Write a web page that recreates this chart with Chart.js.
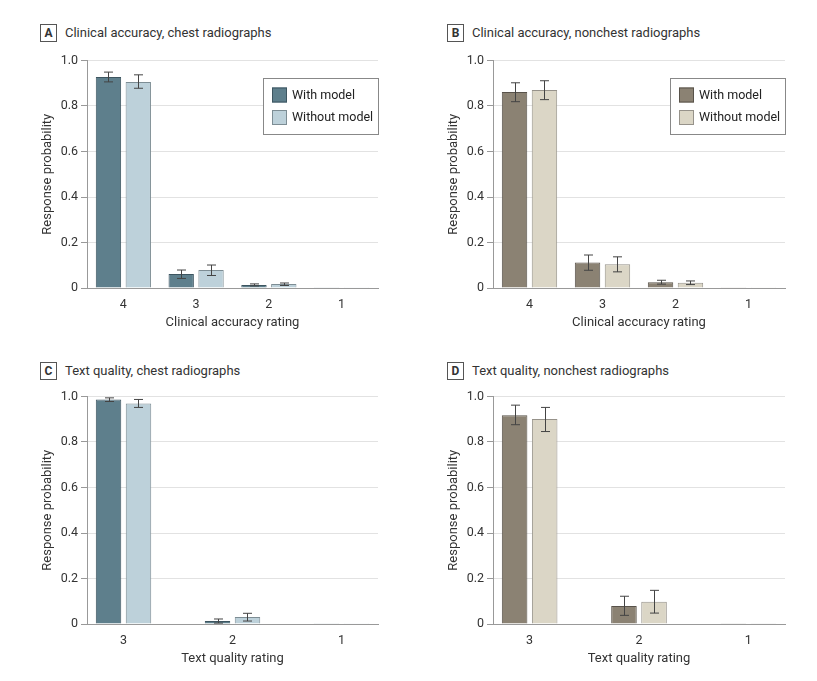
<!DOCTYPE html>
<html>
<head>
<meta charset="utf-8">
<script src="https://cdn.jsdelivr.net/npm/chart.js@4.4.1/dist/chart.umd.min.js"></script>
<style>
  body { margin: 0; background: #fff; width: 817px; height: 681px; position: relative; overflow: hidden;
         font-family: "Roboto", sans-serif; color: #333; }
  .panel-title { position: absolute; font-size: 13px; line-height: 18px; white-space: nowrap; }
  .panel-title .tag { display: inline-block; width: 15px; height: 16px; border: 1px solid #555; text-align: center;
         font-weight: bold; font-size: 12px; line-height: 16px; margin-right: 8px; vertical-align: top; }
  canvas { position: absolute; }
</style>
</head>
<body>
<div class="panel-title" style="left:40px; top:24px;"><span class="tag">A</span>Clinical accuracy, chest radiographs</div>
<div class="panel-title" style="left:447px; top:24px;"><span class="tag">B</span>Clinical accuracy, nonchest radiographs</div>
<div class="panel-title" style="left:40px; top:362px;"><span class="tag">C</span>Text quality, chest radiographs</div>
<div class="panel-title" style="left:447px; top:362px;"><span class="tag">D</span>Text quality, nonchest radiographs</div>

<canvas id="chartA" width="360" height="290" style="left:30px; top:50px;"></canvas>
<canvas id="chartB" width="361" height="290" style="left:436px; top:50px;"></canvas>
<canvas id="chartC" width="360" height="290" style="left:30px; top:386px;"></canvas>
<canvas id="chartD" width="361" height="290" style="left:436px; top:386px;"></canvas>

<script>
// Rating categories (left to right)
const clinicalCats = ['4', '3', '2', '1'];
const textCats = ['3', '2', '1'];
const seriesNames = ['With model', 'Without model'];

// A: clinical accuracy, chest
const aWith = [0.927, 0.061, 0.013, 0.001];
const aWithLo = [0.906, 0.042, 0.009, 0.000];
const aWithHi = [0.949, 0.079, 0.018, 0.002];
const aWithout = [0.906, 0.079, 0.018, 0.001];
const aWithoutLo = [0.878, 0.055, 0.011, 0.000];
const aWithoutHi = [0.937, 0.101, 0.022, 0.002];

// B: clinical accuracy, nonchest
const bWith = [0.861, 0.112, 0.025, 0.001];
const bWithLo = [0.819, 0.078, 0.017, 0.000];
const bWithHi = [0.902, 0.145, 0.034, 0.002];
const bWithout = [0.870, 0.104, 0.023, 0.001];
const bWithoutLo = [0.828, 0.071, 0.015, 0.000];
const bWithoutHi = [0.911, 0.137, 0.031, 0.002];

// C: text quality, chest
const cWith = [0.987, 0.013, 0.001];
const cWithLo = [0.978, 0.004, 0.000];
const cWithHi = [0.994, 0.022, 0.002];
const cWithout = [0.969, 0.031, 0.001];
const cWithoutLo = [0.952, 0.013, 0.000];
const cWithoutHi = [0.987, 0.047, 0.002];

// D: text quality, nonchest
const dWith = [0.918, 0.079, 0.003];
const dWithLo = [0.876, 0.038, 0.001];
const dWithHi = [0.962, 0.122, 0.006];
const dWithout = [0.901, 0.098, 0.003];
const dWithoutLo = [0.846, 0.048, 0.001];
const dWithoutHi = [0.952, 0.148, 0.006];

const yTicks = [0, 0.2, 0.4, 0.6, 0.8, 1.0];

const FONT = '"Roboto", sans-serif';
const chestColors = { fill: ['#5e7f8c', '#bdd1da'], border: ['#3d5560', '#7d8d94'] };
const nonchestColors = { fill: ['#8b8273', '#dbd6c6'], border: ['#58524a', '#96928a'] };

// error bars drawn on top of the bars
const errorBars = {
    id: 'errorBars',
    afterDatasetsDraw(chart) {
        const ctx = chart.ctx;
        const y = chart.scales.y;
        ctx.save();
        ctx.strokeStyle = '#444';
        ctx.lineWidth = 1;
        chart.data.datasets.forEach((ds, i) => {
            chart.getDatasetMeta(i).data.forEach((bar, j) => {
                const top = y.getPixelForValue(ds.errHi[j]);
                const bot = y.getPixelForValue(ds.errLo[j]);
                if (bot - top < 2) return;
                const x = Math.round(bar.x) + 0.5;
                ctx.beginPath();
                ctx.moveTo(x, top); ctx.lineTo(x, bot);
                ctx.moveTo(x - 4.5, top); ctx.lineTo(x + 4.5, top);
                ctx.moveTo(x - 4.5, bot); ctx.lineTo(x + 4.5, bot);
                ctx.stroke();
            });
        });
        ctx.restore();
    }
};

// boxed legend in the upper right of the plot
const boxLegend = {
    id: 'boxLegend',
    afterDraw(chart, args, opts) {
        if (!opts.show) return;
        const ctx = chart.ctx;
        const area = chart.chartArea;
        const w = 115, h = 56;
        const left = area.right - w, top = area.top + 17;
        ctx.save();
        ctx.strokeStyle = '#888';
        ctx.lineWidth = 1;
        ctx.fillStyle = '#fff';
        ctx.fillRect(left, top, w, h);
        ctx.strokeRect(Math.round(left) + 0.5, Math.round(top) + 0.5, w, h);
        chart.data.datasets.forEach((ds, i) => {
            const sy = top + 10 + i * 22.5;
            ctx.fillStyle = ds.backgroundColor;
            ctx.fillRect(left + 9, sy, 15, 15);
            ctx.strokeStyle = ds.borderColor;
            ctx.strokeRect(left + 9.5, sy + 0.5, 14, 14);
            ctx.fillStyle = '#222';
            ctx.font = '12.5px ' + FONT;
            ctx.textBaseline = 'middle';
            ctx.fillText(ds.label, left + 29, sy + 8);
        });
        ctx.restore();
    }
};

function makeChart(id, cats, withVals, withLo, withHi, withoutVals, withoutLo, withoutHi, colors, xTitle, legend) {
    const pad = cats.length === 4 ? 0.5 : 0.335;
    const catPct = cats.length === 4 ? 0.82 : 0.55;
    const toPts = arr => arr.map((v, i) => ({ x: i, y: v }));
    new Chart(document.getElementById(id), {
        type: 'bar',
        data: {
            datasets: [
                { label: seriesNames[0], data: toPts(withVals), errLo: withLo, errHi: withHi,
                  backgroundColor: colors.fill[0], borderColor: colors.border[0], borderWidth: 1 },
                { label: seriesNames[1], data: toPts(withoutVals), errLo: withoutLo, errHi: withoutHi,
                  backgroundColor: colors.fill[1], borderColor: colors.border[1], borderWidth: 1 }
            ]
        },
        options: {
            responsive: false,
            animation: false,
            categoryPercentage: catPct,
            barPercentage: 0.85,
            layout: { padding: { top: 10, right: 12, left: 0, bottom: 0 } },
            plugins: {
                legend: { display: false },
                tooltip: { enabled: false },
                boxLegend: { show: legend }
            },
            scales: {
                x: {
                    type: 'linear',
                    offset: false,
                    min: -pad,
                    max: cats.length - 1 + pad,
                    afterBuildTicks: axis => { axis.ticks = cats.map((c, i) => ({ value: i })); },
                    afterFit: axis => { axis.height = 52; },
                    grid: { display: false, drawTicks: false, offset: false },
                    border: { display: true, color: '#999' },
                    ticks: { callback: v => cats[v], color: '#333', font: { family: FONT, size: 12.5 }, padding: 9,
                             maxRotation: 0 },
                    title: { display: true, text: xTitle, color: '#333', font: { family: FONT, size: 13 },
                             padding: { top: 0, bottom: 9 } }
                },
                y: {
                    min: 0,
                    max: 1,
                    afterBuildTicks: axis => { axis.ticks = yTicks.map(v => ({ value: v })); },
                    afterFit: axis => { axis.width = 57; },
                    grid: { color: '#e2e2e2', tickColor: '#999', tickLength: 6 },
                    border: { display: true, color: '#999' },
                    ticks: { callback: v => (v === 0 ? '0' : v.toFixed(1)), color: '#333',
                             font: { family: FONT, size: 12.5 }, padding: 3 },
                    title: { display: true, text: 'Response probability', color: '#333',
                             font: { family: FONT, size: 13 }, padding: { top: 10, bottom: 0 } }
                }
            }
        },
        plugins: [errorBars, boxLegend]
    });
}

makeChart('chartA', clinicalCats, aWith, aWithLo, aWithHi, aWithout, aWithoutLo, aWithoutHi,
          chestColors, 'Clinical accuracy rating', true);
makeChart('chartB', clinicalCats, bWith, bWithLo, bWithHi, bWithout, bWithoutLo, bWithoutHi,
          nonchestColors, 'Clinical accuracy rating', true);
makeChart('chartC', textCats, cWith, cWithLo, cWithHi, cWithout, cWithoutLo, cWithoutHi,
          chestColors, 'Text quality rating', false);
makeChart('chartD', textCats, dWith, dWithLo, dWithHi, dWithout, dWithoutLo, dWithoutHi,
          nonchestColors, 'Text quality rating', false);
</script>
</body>
</html>
